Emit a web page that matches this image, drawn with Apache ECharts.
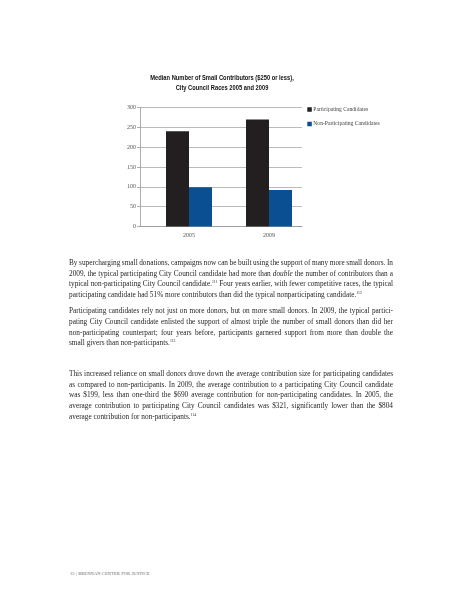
<!DOCTYPE html>
<html>
<head>
<meta charset="utf-8">
<script src="https://cdn.jsdelivr.net/npm/echarts@6/dist/echarts.min.js"></script>
<style>
html,body{margin:0;padding:0;background:#fff;width:463px;height:599px;overflow:hidden;}
#chart{position:absolute;left:0;top:0;width:463px;height:260px;}
.txt{position:absolute;left:69px;width:324px;font-family:"Liberation Serif","DejaVu Serif",serif;font-size:7.3px;color:#262626;}
.ln{height:10.7px;line-height:10.7px;white-space:nowrap;text-align:justify;text-align-last:justify;word-spacing:-0.4px;}
.ln.last{text-align-last:left;word-spacing:0;}
sup{font-size:3.8px;vertical-align:top;line-height:6px;}
#foot{position:absolute;left:70px;top:570.5px;font-family:"Liberation Serif",serif;font-size:4.5px;letter-spacing:0.1px;color:#666;}
</style>
</head>
<body>
<div id="chart"></div>
<div class="txt" style="top:258px">
<div class="ln">By supercharging small donations, campaigns now can be built using the support of many more small donors. In</div>
<div class="ln">2009, the typical participating City Council candidate had more than <i>double</i> the number of contributors than a</div>
<div class="ln">typical non-participating City Council candidate.<sup>111</sup> Four years earlier, with fewer competitive races, the typical</div>
<div class="ln last">participating candidate had 51% more contributors than did the typical nonparticipating candidate.<sup>112</sup></div>
</div>
<div class="txt" style="top:306.3px">
<div class="ln">Participating candidates rely not just on more donors, but on more small donors. In 2009, the typical partici-</div>
<div class="ln">pating City Council candidate enlisted the support of almost triple the number of small donors than did her</div>
<div class="ln">non-participating counterpart; four years before, participants garnered support from more than double the</div>
<div class="ln last">small givers than non-participants.<sup>113</sup></div>
</div>
<div class="txt" style="top:369px">
<div class="ln">This increased reliance on small donors drove down the average contribution size for participating candidates</div>
<div class="ln">as compared to non-participants. In 2009, the average contribution to a participating City Council candidate</div>
<div class="ln">was $199, less than one-third the $690 average contribution for non-participating candidates. In 2005, the</div>
<div class="ln">average contribution to participating City Council candidates was $321, significantly lower than the $804</div>
<div class="ln last">average contribution for non-participants.<sup>114</sup></div>
</div>
<div id="foot">15 | BRENNAN CENTER FOR JUSTICE</div>
<script>
var categories = ['2005', '2009'];
var seriesNames = ['Participating Candidates', 'Non-Participating Candidates'];
var participating = [240, 270];
var nonParticipating = [99, 92];
var yMin = 0, yMax = 300, yStep = 50;
var titleLines = ['Median Number of Small Contributors ($250 or less),', 'City Council Races 2005 and 2009'];

var chart = echarts.init(document.getElementById('chart'));
var serif = '"Liberation Serif","DejaVu Serif",serif';
var yAxisBase = {type: 'value', min: yMin, max: yMax, interval: yStep};
chart.setOption({
  animation: false,
  graphic: [{
    type: 'text', x: 222, y: 73.5, scaleX: 0.8,
    style: {
      text: titleLines.join('\n'), textAlign: 'center', textVerticalAlign: 'top',
      fontFamily: '"Liberation Sans",Arial,sans-serif', fontWeight: 'bold', fontSize: 7.2, lineHeight: 10, fill: '#111'
    }
  }],
  legend: {
    orient: 'vertical', left: 307.3, top: 106, padding: 0, itemWidth: 4.5, itemHeight: 4.5, itemGap: 7.5,
    icon: 'rect',
    data: seriesNames,
    textStyle: {fontFamily: serif, fontSize: 5.6, lineHeight: 7, color: '#444', padding: [0,0,0,-3.5]}
  },
  grid: [
    {left: 140, top: 107.5, width: 162, height: 119, containLabel: false},
    {left: 149, top: 107.5, width: 160, height: 119, containLabel: false}
  ],
  xAxis: [
    {type: 'category', gridIndex: 0, data: categories,
     axisLine: {lineStyle: {color: '#999', width: 0.8}},
     axisTick: {show: false}, axisLabel: {show: false}},
    {type: 'category', gridIndex: 1, data: categories,
     axisLine: {show: false}, axisTick: {show: false},
     axisLabel: {fontFamily: serif, fontSize: 6, color: '#555', margin: 6}}
  ],
  yAxis: [
    Object.assign({}, yAxisBase, {
      gridIndex: 0,
      axisLine: {show: true, lineStyle: {color: '#999', width: 0.8}},
      axisTick: {show: true, length: 3, lineStyle: {color: '#999', width: 0.8}},
      splitLine: {lineStyle: {color: '#aaa', width: 0.8}},
      axisLabel: {fontFamily: serif, fontSize: 6, color: '#555', margin: 4}
    }),
    Object.assign({}, yAxisBase, {
      gridIndex: 1, show: false, splitLine: {show: false}
    })
  ],
  series: [
    {name: seriesNames[0], type: 'bar', xAxisIndex: 1, yAxisIndex: 1, data: participating, barWidth: 23, barGap: '0%', itemStyle: {color: '#231f20'}},
    {name: seriesNames[1], type: 'bar', xAxisIndex: 1, yAxisIndex: 1, data: nonParticipating, barWidth: 23, barGap: '0%', itemStyle: {color: '#0a4f91'}}
  ]
});
</script>
</body>
</html>
